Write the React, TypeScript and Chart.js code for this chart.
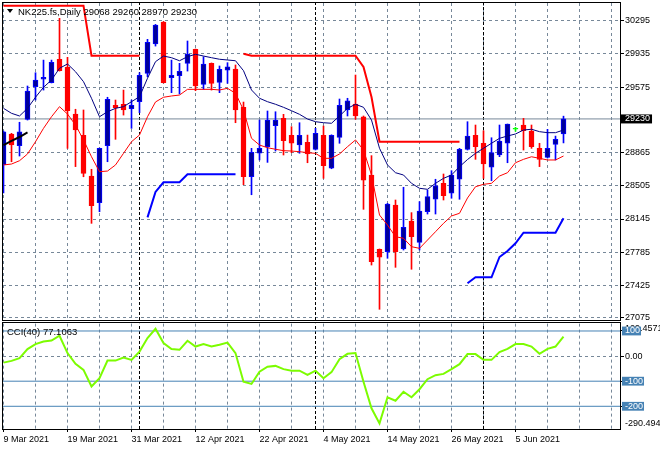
import React, { useEffect, useRef } from 'react';
import { Chart, registerables } from 'chart.js';
Chart.register(...registerables);

// ---------- data ----------
const opens = [
  28733, 29066, 28939, 29226, 29579, 29660, 29623, 29876, 29790, 29283,
  29052, 28611, 28322, 28939, 29378, 29389, 29341, 29417, 29724, 30042,
  30281, 29677, 29698, 29833, 29985, 29605, 29833, 29627, 29760, 29771,
  29356, 28603, 28858, 28929, 29157, 29236, 29052, 28947, 28977, 28900,
  29052, 28695, 29030, 29327, 29392, 29254, 28622, 27816, 27790, 28297,
  27820, 28123, 27892, 28225, 28359, 28532, 28424, 28576, 28900, 29052,
  28966, 28706, 28839, 28966, 29118, 29164, 29099, 28911, 28814, 28955,
  29068,
];
const highs = [
  29099, 29074, 29194, 29587, 29731, 29868, 29868, 30321, 29898, 29335,
  29327, 28684, 28914, 29465, 29435, 29543, 29435, 29731, 30093, 30255,
  30286, 29868, 29833, 30075, 29988, 29904, 29837, 29804, 29840, 29815,
  29413, 28911, 29218, 29316, 29308, 29280, 29146, 29189, 29055, 29128,
  29153, 29058, 29446, 29454, 29706, 29262, 28832, 27820, 28315, 28351,
  28489, 28214, 28333, 28459, 28576, 28633, 28669, 28911, 29200, 29164,
  29102, 29026, 29164, 29175, 29139, 29236, 29164, 28966, 29117, 29044,
  29260,
];
const lows = [
  28427, 28766, 28828, 29218, 29435, 29543, 29620, 29749, 28911, 28713,
  28603, 28098, 28224, 28766, 29009, 29272, 29128, 29298, 29687, 30020,
  29620, 29515, 29501, 29749, 29536, 29551, 29543, 29515, 29616, 29189,
  28517, 28408, 28785, 28759, 28882, 28839, 28864, 28858, 28755, 28893,
  28586, 28690, 28966, 29262, 29226, 28250, 27646, 27166, 27719, 27621,
  27809, 27600, 27809, 28199, 28199, 28351, 28370, 28359, 28893, 28792,
  28586, 28560, 28821, 28755, 29096, 28893, 28911, 28713, 28806, 28785,
  28970,
];
const closes = [
  29091, 28947, 29091, 29533, 29652, 29682, 29844, 29753, 29319, 29110,
  28640, 28289, 28911, 29443, 29352, 29327, 29378, 29702, 30061, 30248,
  29623, 29702, 29746, 29934, 29587, 29826, 29616, 29768, 29796, 29327,
  28603, 28869, 28911, 29218, 29218, 28994, 28966, 29052, 28850, 29074,
  28723, 29052, 29378, 29427, 29262, 28567, 27682, 27730, 28308, 27790,
  28055, 27953, 28232, 28387, 28506, 28398, 28622, 28900, 29044, 28929,
  28742, 28864, 28991, 29175, 29118, 29102, 28929, 28792, 28911, 29009,
  29230,
];
const maLine = [
  29345, 29291, 29262, 29345, 29465, 29573, 29652, 29779, 29826, 29742,
  29634, 29454, 29254, 29308, 29345, 29363, 29417, 29471, 29671, 29851,
  29912, 29894, 29861, 29905, 29931, 29912, 29894, 29877, 29869, 29861,
  29753, 29544, 29454, 29417, 29389, 29356, 29319, 29280, 29229, 29200,
  29189, 29183, 29262, 29345, 29389, 29356, 29218, 28912, 28731, 28647,
  28622, 28532, 28478, 28467, 28532, 28586, 28622, 28712, 28790, 28857,
  28912, 28966, 29020, 29045, 29067, 29110, 29118, 29092, 29081, 29081,
  29110,
];
const lowerLine = [
  28731, 28741, 28777, 28850, 28983, 29128, 29254, 29363, 29283, 29164,
  29002, 28820, 28658, 28665, 28731, 28857, 28983, 29056, 29254, 29414,
  29465, 29479, 29489, 29551, 29551, 29551, 29551, 29544, 29562, 29508,
  29327, 29020, 28947, 28918, 28901, 28886, 28882, 28875, 28864, 28857,
  28803, 28803, 28850, 28929, 29002, 28893, 28622, 28188, 28080, 27953,
  27936, 27845, 27827, 27917, 28007, 28098, 28178, 28207, 28373, 28495,
  28521, 28532, 28611, 28647, 28755, 28792, 28820, 28803, 28785, 28785,
  28828,
];
const resistLine = [
  30458, 30458, 30458, 30458, 30458, 30458, 30458, 30458, 30458, 30458,
  30458, 29915, 29915, 29915, 29915, 29915, 29915, 29915, null, null,
  null, null, null, null, null, null, null, null, null, null,
  29937, 29915, 29915, 29915, 29915, 29915, 29915, 29915, 29915, 29915,
  29915, 29915, 29915, 29915, 29915, 29793, 29468, 28983, 28983, 28983,
  28983, 28983, 28983, 28983, 28983, 28983, 28983, 28983, null, null,
  null, null, null, null, null, null, null, null, null, null,
  null,
];
const supportLine = [
  null, null, null, null, null, null, null, null, null, null,
  null, null, null, null, null, null, null, null, 28163, 28438,
  28543, 28543, 28543, 28630, 28630, 28630, 28630, 28630, 28630, 28630,
  null, null, null, null, null, null, null, null, null, null,
  null, null, null, null, null, null, null, null, null, null,
  null, null, null, null, null, null, null, null, 27448, 27513,
  27513, 27513, 27733, 27798, 27882, 27997, 27997, 27997, 27997, 27997,
  28153,
];
const blackLine = [28947, 28991, 29034, 29083];
const cciValues = [
  -26, -19, -8, 28, 48, 58, 62, 81, 12, -31,
  -55, -121, -88, -18, -18, -6, -15, 18, 72, 109,
  52, 28, 25, 61, 38, 48, 38, 45, 54, 12,
  -102, -111, -62, -42, -39, -52, -58, -58, -75, -58,
  -88, -64, -12, 9, 12, -102, -208, -268, -164, -178,
  -142, -164, -132, -92, -76, -71, -52, -32, 8, 8,
  -15, -15, 16, 29, 48, 48, 38, 9, 29, 38,
  77.1063,
];
const dateLabels = ['9 Mar 2021', '19 Mar 2021', '31 Mar 2021', '12 Apr 2021', '22 Apr 2021', '4 May 2021', '14 May 2021', '26 May 2021', '5 Jun 2021'];
const dateLabelIndex = [0, 8, 16, 24, 32, 40, 48, 56, 64];
const gridIndex = [0, 4, 8, 12, 16, 20, 24, 28, 32, 36, 40, 44, 48, 52, 56, 60, 64, 68, 72, 76];
const separatorIndex = [17, 39, 60];
const priceTicks = [30295, 29935, 29575, 29230, 28865, 28505, 28145, 27785, 27425, 27075];
const bidPrice = 29230;
const cciLevels = [100, -100, -200];
const cciTickValues = [129.4571, 100, 0, -100, -200, -290.494];
const cciTickLabels: (string | string[])[] = [['', '129.4571'], '100', '0.00', '-100', '-200', ['-290.494', '']];
const titleText = 'NK225.fs,Daily 29068 29260 28970 29230';
const cciText = 'CCI(40) 77.1063';

// ---------- style ----------
const FONT = "'Liberation Sans', Arial, sans-serif";
const GRID = '#778899';
const X_MIN = -0.0625;
const X_MAX = 77.0625;
const P_MIN = 27050;
const P_MAX = 30487;
const CCI_MIN = -290.494;
const CCI_MAX = 129.4571;
const BULL_FILL = '#000099';
const BULL_EDGE = '#0000FF';
const BEAR = '#FF0000';
const DOJI = '#00FF00';

const pts = (arr: (number | null)[]) => arr.map((v, i) => ({ x: i, y: v }));
const hLine = (y: number) => [{ x: X_MIN, y }, { x: X_MAX, y }];
const vLine = (x: number, a: number, b: number) => [{ x, y: a }, { x, y: b }];
const dir = closes.map((c, i) => (c > opens[i] ? 1 : c < opens[i] ? -1 : 0));

function lineDs(data: any[], color: string, width: number, order: number, dash?: number[]) {
  return {
    type: 'line' as const,
    data,
    borderColor: color,
    backgroundColor: color,
    borderWidth: width,
    borderDash: dash || [],
    pointRadius: 0,
    fill: false,
    tension: 0,
    spanGaps: false,
    order,
  };
}

function xScale(showLabels: boolean) {
  return {
    type: 'linear' as const,
    min: X_MIN,
    max: X_MAX,
    bounds: 'data' as const,
    offset: false,
    afterBuildTicks: (s: any) => { s.ticks = gridIndex.map((v) => ({ value: v })); },
    afterFit: (s: any) => { s.height = showLabels ? 21 : 0; s.paddingLeft = 0; s.paddingRight = 0; },
    ticks: {
      display: showLabels,
      autoSkip: false,
      maxRotation: 0,
      minRotation: 0,
      align: 'start' as const,
      padding: 2,
      color: '#000',
      font: { family: FONT, size: 9 },
      callback: (v: any) => {
        const k = dateLabelIndex.indexOf(v);
        return k >= 0 ? dateLabels[k] : '';
      },
    },
    grid: {
      offset: false,
      color: GRID,
      lineWidth: 1,
      drawTicks: showLabels,
      tickLength: 3,
      tickColor: (ctx: any) => (ctx.tick && dateLabelIndex.includes(ctx.tick.value) ? '#000' : 'rgba(0,0,0,0)'),
    },
    border: { display: false, dash: [3, 3] },
  };
}

export default function App() {
  const mainRef = useRef<HTMLCanvasElement>(null);
  const cciRef = useRef<HTMLCanvasElement>(null);

  useEffect(() => {
    const bodyData = opens.map((o, i) => ({ x: i, y: [o, closes[i]] }));
    const wickData = lows.map((l, i) => ({ x: i, y: [l, highs[i]] }));
    const bodyFill = dir.map((d) => (d > 0 ? BULL_FILL : d < 0 ? BEAR : DOJI));
    const bodyEdge = dir.map((d) => (d > 0 ? BULL_EDGE : d < 0 ? BEAR : DOJI));
    const wickColor = dir.map((d) => (d > 0 ? BULL_EDGE : d < 0 ? BEAR : DOJI));

    const main = new Chart(mainRef.current as HTMLCanvasElement, {
      type: 'bar',
      data: {
        datasets: [
          lineDs(pts(resistLine), '#FF0000', 2, 0),
          lineDs(pts(supportLine), '#0000FF', 2, 0),
          lineDs(pts(blackLine), '#000000', 2, 1),
          lineDs(pts(maLine), '#000080', 1, 2),
          lineDs(pts(lowerLine), '#FF0000', 1, 2),
          {
            type: 'bar' as const,
            data: bodyData as any,
            backgroundColor: bodyFill,
            borderColor: bodyEdge,
            borderWidth: 1,
            borderSkipped: false,
            barThickness: 5,
            minBarLength: 1,
            grouped: false,
            order: 10,
          },
          {
            type: 'bar' as const,
            data: wickData as any,
            backgroundColor: wickColor,
            borderWidth: 0,
            barThickness: 1,
            grouped: false,
            order: 11,
          },
          lineDs(hLine(bidPrice), GRID, 1, 12),
          ...separatorIndex.map((s) => lineDs(vLine(s, P_MIN, P_MAX), '#000000', 1, 13, [3, 2])),
        ] as any,
      },
      options: {
        responsive: false,
        animation: false,
        devicePixelRatio: 1,
        layout: { padding: { left: 3, top: 3, right: 0, bottom: 1 } },
        plugins: { legend: { display: false }, tooltip: { enabled: false }, title: { display: false } },
        scales: {
          x: xScale(false) as any,
          y: {
            type: 'linear',
            position: 'right',
            min: P_MIN,
            max: P_MAX,
            bounds: 'data',
            afterBuildTicks: (s: any) => { s.ticks = priceTicks.map((v) => ({ value: v })); },
            afterFit: (s: any) => { s.width = 40; s.paddingTop = 0; s.paddingBottom = 0; },
            ticks: {
              autoSkip: false,
              padding: 1,
              font: { family: FONT, size: 9, lineHeight: 1 },
              color: (ctx: any) => (ctx.tick && ctx.tick.value === bidPrice ? '#FFFFFF' : '#000000'),
              showLabelBackdrop: (ctx: any) => !!(ctx.tick && ctx.tick.value === bidPrice),
              backdropColor: '#000000',
              backdropPadding: { left: 4, right: 2, top: 0, bottom: 0 },
              callback: (v: any) => String(v),
            },
            grid: {
              color: (ctx: any) => (ctx.tick && ctx.tick.value === bidPrice ? 'rgba(0,0,0,0)' : GRID),
              drawTicks: true,
              tickLength: 4,
              tickColor: '#000000',
            },
            border: { display: false, dash: [3, 3] },
          } as any,
        },
      },
    });

    const cci = new Chart(cciRef.current as HTMLCanvasElement, {
      type: 'line',
      data: {
        datasets: [
          lineDs(pts(cciValues), '#7CFC00', 2, 0),
          ...cciLevels.map((l) => lineDs(hLine(l), '#4682B4', 1, 5)),
          ...separatorIndex.map((s) => lineDs(vLine(s, CCI_MIN, CCI_MAX), '#000000', 1, 6, [3, 2])),
        ] as any,
      },
      options: {
        responsive: false,
        animation: false,
        devicePixelRatio: 1,
        layout: { padding: { left: 3, top: 2.6, right: 0, bottom: 0 } },
        plugins: { legend: { display: false }, tooltip: { enabled: false }, title: { display: false } },
        scales: {
          x: xScale(true) as any,
          y: {
            type: 'linear',
            position: 'right',
            min: CCI_MIN,
            max: CCI_MAX,
            bounds: 'data',
            afterBuildTicks: (s: any) => { s.ticks = cciTickValues.map((v) => ({ value: v })); },
            afterFit: (s: any) => { s.width = 40; s.paddingTop = 0; s.paddingBottom = 0; },
            ticks: {
              autoSkip: false,
              padding: 1,
              font: { family: FONT, size: 9, lineHeight: 1.2 },
              color: (ctx: any) => (ctx.tick && cciLevels.includes(ctx.tick.value) ? '#FFFFFF' : '#000000'),
              showLabelBackdrop: (ctx: any) => !!(ctx.tick && cciLevels.includes(ctx.tick.value)),
              backdropColor: '#4682B4',
              backdropPadding: { left: 3, right: 1, top: -1, bottom: -1 },
              callback: (_v: any, i: number) => cciTickLabels[i],
            },
            grid: {
              color: (ctx: any) => (ctx.tick && ctx.tick.value === 0 ? GRID : 'rgba(0,0,0,0)'),
              drawTicks: true,
              tickLength: 4,
              tickColor: (ctx: any) => (ctx.tick && (ctx.tick.value === CCI_MAX || ctx.tick.value === CCI_MIN) ? 'rgba(0,0,0,0)' : '#000000'),
            },
            border: { display: false, dash: [3, 3] },
          } as any,
        },
      },
    });

    return () => { main.destroy(); cci.destroy(); };
  }, []);

  const frame = (top: number, height: number): React.CSSProperties => ({
    position: 'absolute', left: 2, top, width: 619, height, border: '1px solid #000', boxSizing: 'border-box', pointerEvents: 'none',
  });
  const label: React.CSSProperties = {
    position: 'absolute', fontFamily: FONT, fontSize: '9.5px', lineHeight: '11px', color: '#000', whiteSpace: 'nowrap',
  };

  return (
    <div style={{ position: 'absolute', left: 0, top: 0, width: 660, height: 450, background: '#fff', overflow: 'hidden' }}>
      <canvas ref={mainRef} width={660} height={321} style={{ position: 'absolute', left: 0, top: 0, display: 'block' }} />
      <canvas ref={cciRef} width={660} height={129} style={{ position: 'absolute', left: 0, top: 321, display: 'block' }} />
      <div style={frame(2, 319)} />
      <div style={frame(322, 108)} />
      <div style={{ position: 'absolute', left: 7, top: 9, width: 0, height: 0, borderLeft: '3px solid transparent', borderRight: '3px solid transparent', borderTop: '4px solid #000' }} />
      <div style={{ ...label, left: 18, top: 6 }}>{titleText}</div>
      <div style={{ ...label, left: 7, top: 326 }}>{cciText}</div>
    </div>
  );
}
